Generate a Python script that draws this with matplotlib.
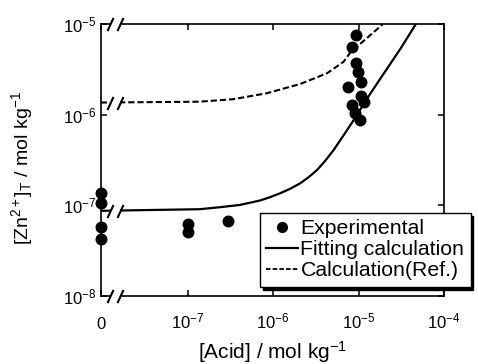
import numpy as np
import matplotlib
matplotlib.use("Agg")
import matplotlib.pyplot as plt
from matplotlib.path import Path
from matplotlib.lines import Line2D
from matplotlib.patches import Rectangle
from matplotlib import transforms
from matplotlib.ticker import NullLocator, FixedLocator, FixedFormatter

plt.rcParams['font.family'] = ['Liberation Sans', 'DejaVu Sans']
plt.rcParams['mathtext.fontset'] = 'custom'
plt.rcParams['mathtext.rm'] = 'Liberation Sans'
plt.rcParams['mathtext.it'] = 'Liberation Sans:italic'
plt.rcParams['mathtext.default'] = 'regular'

# ---- data ----
exp_x = [0, 0, 0, 0, 1e-7, 1e-7, 3e-7,
         9.4e-6, 8.4e-6, 9.4e-6, 9.9e-6, 1.08e-5, 7.5e-6, 1.06e-5,
         1.15e-5, 8.3e-6, 9.2e-6, 1.03e-5]
exp_y = [1.37e-7, 1.05e-7, 5.7e-8, 4.3e-8, 6.2e-8, 5.1e-8, 6.8e-8,
         7.56e-6, 5.53e-6, 3.74e-6, 2.99e-6, 2.32e-6, 2.02e-6, 1.61e-6,
         1.38e-6, 1.28e-6, 1.04e-6, 8.75e-7]

fit_x = [0, 1.38e-7, 2.38e-7, 4.09e-7, 7.03e-7, 9.22e-7, 1.21e-6, 1.58e-6,
         2.08e-6, 2.6e-6, 3.27e-6, 4.09e-6, 5.12e-6, 6.14e-6, 7.36e-6,
         8.8e-6, 1.38e-5, 3.12e-5, 4.69e-5]
fit_y = [8.7e-8, 9.06e-8, 9.53e-8, 1.01e-7, 1.13e-7, 1.23e-7, 1.36e-7, 1.52e-7,
         1.75e-7, 2.04e-7, 2.45e-7, 3.11e-7, 4.08e-7, 5.26e-7, 6.78e-7,
         8.75e-7, 1.72e-6, 5.4e-6, 1.0e-5]

ref_x = [0, 1.38e-7, 3.4e-7, 8.4e-7, 2.08e-6, 4.28e-6, 6.7e-6, 8.05e-6,
         1.06e-5, 1.82e-5, 1.92e-5]
ref_y = [1.36e-6, 1.39e-6, 1.48e-6, 1.72e-6, 2.18e-6, 2.86e-6, 3.84e-6,
         4.88e-6, 6.1e-6, 9.5e-6, 1.0e-5]

x_ticks = [0, 1e-7, 1e-6, 1e-5, 1e-4]
x_ticklabels = ['0', '$10^{-7}$', '$10^{-6}$', '$10^{-5}$', '$10^{-4}$']
y_ticks = [1e-8, 1e-7, 1e-6, 1e-5]
y_ticklabels = ['$10^{-8}$', '$10^{-7}$', '$10^{-6}$', '$10^{-5}$']

labels = ['Experimental', 'Fitting calculation', 'Calculation(Ref.)']

# position used for "0" on the broken log axis
XZERO = 10 ** -8.016


def xpos(a):
    a = np.asarray(a, dtype=float)
    return np.where(a == 0, XZERO, a)


fig = plt.figure(figsize=(4.78, 3.64), dpi=100)
ax = fig.add_axes([0.2107, 0.1868, 0.7182, 0.7473])
ax.set_xscale('log')
ax.set_yscale('log')
ax.set_xlim(XZERO, 1e-4)
ax.set_ylim(1e-8, 1e-5)

ax.plot(xpos(fit_x), fit_y, color='k', lw=1.6, solid_capstyle='butt', zorder=2)
ax.plot(xpos(ref_x), ref_y, color='k', lw=1.5, ls=(0, (3, 1.4)), zorder=2)
ax.plot(xpos(exp_x), exp_y, 'o', color='k', ms=7.6, clip_on=False, zorder=5)

# axis break
gap0, gap1 = 0.027, 0.056
ax.add_patch(Rectangle((gap0, -0.03), gap1 - gap0, 1.06, transform=ax.transAxes,
                       facecolor='white', edgecolor='none', clip_on=False, zorder=3))
slash = Path([(-0.46, -1.0), (0.46, 1.0)], [Path.MOVETO, Path.LINETO])
blend = transforms.blended_transform_factory(ax.transAxes, ax.transData)
for xa in (gap0, gap1):
    for yy in (0, 1):
        ax.plot([xa], [yy], marker=slash, ms=9.4, mew=1.5, color='k', ls='none',
                transform=ax.transAxes, clip_on=False, zorder=4)
    for yy in (fit_y[0], ref_y[0]):
        ax.plot([xa], [yy], marker=slash, ms=9.4, mew=1.5, color='k', ls='none',
                transform=blend, clip_on=False, zorder=4)

ax.xaxis.set_major_locator(FixedLocator(list(xpos(x_ticks))))
ax.xaxis.set_major_formatter(FixedFormatter(x_ticklabels))
ax.xaxis.set_minor_locator(NullLocator())
ax.yaxis.set_major_locator(FixedLocator(y_ticks))
ax.yaxis.set_major_formatter(FixedFormatter(y_ticklabels))
ax.yaxis.set_minor_locator(NullLocator())
ax.tick_params(which='major', direction='in', top=True, right=True,
               length=4, width=1.1, labelsize=12)
ax.tick_params(axis='x', pad=23.4)
ax.tick_params(axis='y', pad=3)
for lab in ax.get_xticklabels():
    lab.set_verticalalignment('baseline')
for sp in ax.spines.values():
    sp.set_linewidth(1.2)

ax.set_xlabel('[Acid] / mol kg$^{-1}$', fontsize=15)
ax.xaxis.set_label_coords(0.5, -0.16)
ax.xaxis.label.set_verticalalignment('top')
ax.set_ylabel('[Zn$^{2+}$]$_{T}$ / mol kg$^{-1}$', fontsize=14)
ax.yaxis.set_label_coords(-0.19, 0.47)

handles = [Line2D([], [], color='k', marker='o', ms=7, ls='none'),
           Line2D([], [], color='k', lw=1.6),
           Line2D([], [], color='k', lw=1.3, ls=(0, (2.5, 1.2)))]
leg = ax.legend(handles, labels, loc='upper left', bbox_to_anchor=(0.464, 0.306),
                borderaxespad=0, fontsize=15.3, handlelength=1.5, handletextpad=0.1,
                labelspacing=0.1, borderpad=0.3, fancybox=False, framealpha=1,
                edgecolor='k', shadow={'color': 'black', 'alpha': 1})
leg.get_frame().set_linewidth(1.0)
leg.set_zorder(6)

fig.savefig('out.png', dpi=100)
